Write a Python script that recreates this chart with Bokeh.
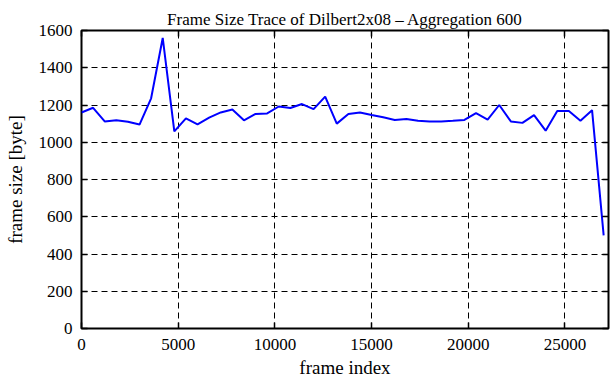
from bokeh.plotting import figure
from bokeh.models import Range1d, LinearAxis
from bokeh.embed import file_html
from bokeh.resources import INLINE

frame_index = [0, 600, 1200, 1800, 2400, 3000, 3600, 4200, 4800, 5400,
               6000, 6600, 7200, 7800, 8400, 9000, 9600, 10200, 10800, 11400,
               12000, 12600, 13200, 13800, 14400, 15000, 15600, 16200, 16800, 17400,
               18000, 18600, 19200, 19800, 20400, 21000, 21600, 22200, 22800, 23400,
               24000, 24600, 25200, 25800, 26400, 27000]
frame_size = [1160, 1185, 1112, 1118, 1110, 1095, 1236, 1560, 1058, 1128,
              1096, 1132, 1160, 1176, 1118, 1152, 1155, 1192, 1184, 1205,
              1178, 1245, 1100, 1152, 1160, 1146, 1134, 1120, 1125, 1115,
              1112, 1112, 1115, 1120, 1156, 1122, 1200, 1112, 1104, 1146,
              1062, 1168, 1168, 1116, 1172, 500]

x_ticks = [0, 5000, 10000, 15000, 20000, 25000]
y_ticks = [0, 200, 400, 600, 800, 1000, 1200, 1400, 1600]

FONT = "Liberation Serif"

p = figure(width=610, height=380, output_backend="svg", toolbar_location=None,
           x_range=Range1d(0, 27250), y_range=Range1d(0, 1600),
           min_border_left=81, min_border_right=2, min_border_top=30, min_border_bottom=50,
           title="Frame Size Trace of Dilbert2x08 \u2013 Aggregation 600")

p.title.align = "center"
p.title.text_font = FONT
p.title.text_font_size = "17px"
p.title.text_font_style = "normal"
p.title.text_color = "black"
p.title.offset = 0
p.title.standoff = 4

p.line(frame_index, frame_size, line_color="#0000ff", line_width=2)

p.outline_line_color = "black"
p.outline_line_width = 2
p.background_fill_color = "white"
p.border_fill_color = "white"

p.xaxis.ticker = x_ticks
p.yaxis.ticker = y_ticks

for axes in (p.xaxis, p.yaxis):
    axes.axis_line_color = None
    axes.major_tick_in = 6
    axes.major_tick_out = 0
    axes.major_tick_line_width = 1.5
    axes.major_tick_line_color = "black"
    axes.minor_tick_line_color = None
    axes.major_label_text_font = FONT
    axes.major_label_text_font_size = "17px"
    axes.major_label_text_color = "black"
    axes.axis_label_text_font = FONT
    axes.axis_label_text_font_size = "19px"
    axes.axis_label_text_font_style = "normal"
    axes.axis_label_text_color = "black"

p.xaxis.axis_label = "frame index"
p.yaxis.axis_label = "frame size [byte]"
p.xaxis.major_label_standoff = 10
p.xaxis.axis_label_standoff = 4
p.yaxis.major_label_standoff = 9
p.yaxis.axis_label_standoff = 10

p.xgrid.ticker = x_ticks
p.ygrid.ticker = y_ticks
for g in (p.xgrid[0], p.ygrid[0]):
    g.grid_line_color = "black"
    g.grid_line_dash = "6 4"
    g.grid_line_width = 1

# mirrored ticks on top and right (no labels)
blank_x = {t: "" for t in x_ticks}
blank_y = {t: "" for t in y_ticks}
top = LinearAxis(ticker=x_ticks, major_label_overrides=blank_x,
                 axis_line_color=None, major_tick_in=6, major_tick_out=0,
                 major_tick_line_width=1.5, minor_tick_line_color=None,
                 major_label_standoff=0)
right = LinearAxis(ticker=y_ticks, major_label_overrides=blank_y,
                   axis_line_color=None, major_tick_in=6, major_tick_out=0,
                   major_tick_line_width=1.5, minor_tick_line_color=None,
                   major_label_standoff=0)
p.add_layout(top, "above")
p.add_layout(right, "right")

open("out.html", "w").write(file_html(p, INLINE))
